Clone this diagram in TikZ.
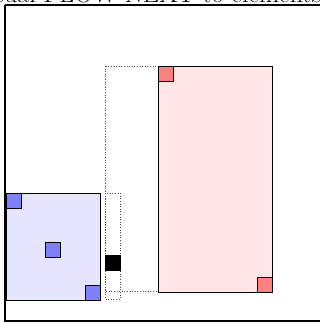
\documentclass[tikz,border=0pt]{standalone}
\begin{document}
\begin{tikzpicture}[x=1pt,y=-1pt,
  bluebox/.style={draw=black,line width=0.8pt,fill=blue!10},
  redbox/.style={draw=black,line width=0.8pt,fill=red!10},
  bluesq/.style={draw=black,line width=0.8pt,fill=blue!50},
  redsq/.style={draw=black,line width=0.8pt,fill=red!50},
  dotbox/.style={draw=black!70,dotted,line width=0.6pt},
  frame/.style={draw=black,line width=1.6pt}]
\useasboundingbox (0,0) rectangle (320,324);
\node[anchor=base west,inner sep=0pt,font=\fontsize{26}{28}\selectfont] (title) at (-30,2.2) {Visual FLOW NEXT to elements};
\draw[frame] (5,5) -- (5,321) -- (335,321);
\draw[frame] (5,5) -- (335,5);
% dotted outlines
\draw[dotbox] (105,66) rectangle (272,291);
\draw[dotbox] (105,193) rectangle (120,299);
% blue box
\node[bluebox,minimum width=94pt,minimum height=107pt,inner sep=0pt,anchor=north west] (blue) at (6,192.5) {};
\node[bluesq,minimum size=15pt,inner sep=0pt,anchor=north west] (b1) at (blue.north west) {};
\node[bluesq,minimum size=15pt,inner sep=0pt] (b2) at (52.5,249.5) {};
\node[bluesq,minimum size=15pt,inner sep=0pt,anchor=south east] (b3) at (blue.south east) {};
% black square
\node[fill=black,minimum size=16pt,inner sep=0pt,anchor=north west] (blk) at (105,255) {};
% red box
\node[redbox,minimum width=114pt,minimum height=226pt,inner sep=0pt,anchor=north west] (red) at (158,65.5) {};
\node[redsq,minimum size=15pt,inner sep=0pt,anchor=north west] (r1) at (red.north west) {};
\node[redsq,minimum size=15pt,inner sep=0pt,anchor=south east] (r2) at (red.south east) {};
\end{tikzpicture}
\end{document}
